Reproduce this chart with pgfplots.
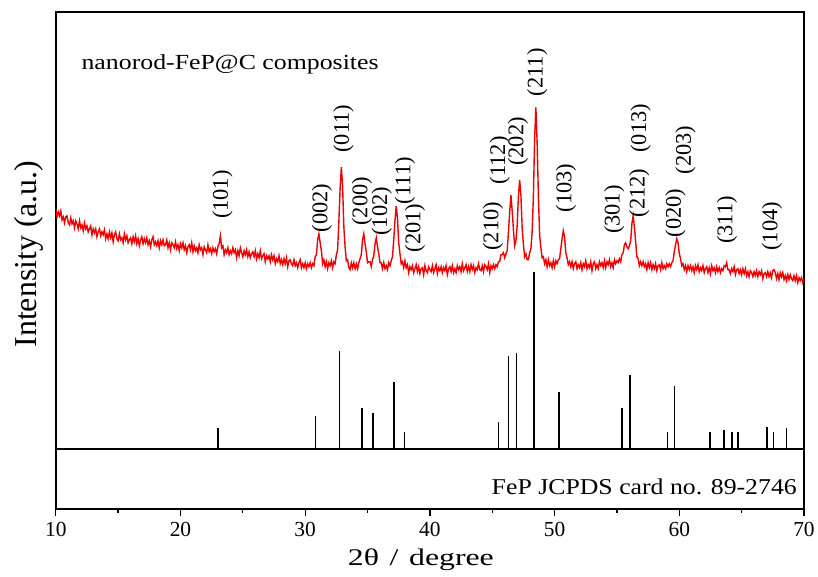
\documentclass[border=0pt]{standalone}
\usepackage{pgfplots}
\pgfplotsset{compat=1.18}
\usepackage{graphicx}
\usepackage{fontspec}
\setmainfont{Liberation Serif}

\definecolor{xrdred}{RGB}{238,0,0}

\begin{document}
\begin{tikzpicture}[
  hkl/.style={rotate=90, anchor=west, inner sep=0pt, font=\fontsize{22.5}{24}\selectfont},
]
% JCPDS reference lines (baseline sits on the separating line)
\begin{axis}[
  at={(0pt,60pt)}, anchor=south west,
  scale only axis, width=751pt, height=438.7pt,
  xmin=10, xmax=70, ymin=0, ymax=438.7,
  hide axis,
]
\addplot[ycomb, black, line width=1.6pt, mark=none] table {
23.00  20.7
30.82  33.4
32.76  98.0
34.55  41.4
35.45  36.4
37.13  67.4
37.96  17.0
45.49  27.4
46.32  93.4
46.96  96.4
48.34 177.4
50.36  57.4
55.39  41.4
56.06  74.0
59.04  17.0
59.60  63.7
62.45  17.0
63.57  19.0
64.21  17.4
64.71  17.4
67.05  22.0
67.56  17.0
68.60  21.0
};
\end{axis}

% measured pattern, frame and annotations
\begin{axis}[
  at={(0pt,0pt)}, anchor=south west,
  scale only axis, width=751pt, height=498.7pt,
  xmin=10, xmax=70, ymin=0, ymax=498.7,
  clip mode=individual,
  axis line style={line width=1.6pt},
  xtick={10,20,...,70},
  minor xtick={15,25,...,65},
  ytick=\empty,
  xtick pos=left,
  tick align=outside,
  major tick length=7.5pt, minor tick length=4pt,
  major tick style={black, line width=1.3pt},
  minor tick style={black, line width=1.3pt},
  xticklabel style={font=\fontsize{21.5}{24}\selectfont, yshift=-2pt},
  /pgf/number format/assume math mode=true,
]
\draw[line width=1.6pt] (axis cs:10,60) -- (axis cs:70,60);

\addplot[xrdred, line width=1.4pt, mark=none] table {
10.0 301
10.1 293
10.2 298
10.3 294
10.4 299
10.5 290
10.6 293
10.7 287
10.8 293
10.9 294
11.0 287
11.1 285
11.2 292
11.3 286
11.4 289
11.5 282
11.6 289
11.7 286
11.8 281
11.9 289
12.0 282
12.1 285
12.2 279
12.3 287
12.4 281
12.5 284
12.6 278
12.7 281
12.8 284
12.9 275
13.0 281
13.1 277
13.2 281
13.3 273
13.4 278
13.5 281
13.6 274
13.7 278
13.8 275
13.9 280
14.0 271
14.1 276
14.2 271
14.3 278
14.4 272
14.5 277
14.6 268
14.7 275
14.8 278
14.9 271
15.0 269
15.1 276
15.2 270
15.3 272
15.4 267
15.5 276
15.6 270
15.7 274
15.8 267
15.9 270
16.0 272
16.1 266
16.2 273
16.3 268
16.4 274
16.5 266
16.6 271
16.7 264
16.8 270
16.9 273
17.0 266
17.1 271
17.2 267
17.3 272
17.4 265
17.5 269
17.6 263
17.7 270
17.8 273
17.9 265
18.0 268
18.1 264
18.2 269
18.3 262
18.4 269
18.5 265
18.6 270
18.7 264
18.8 265
18.9 270
19.0 262
19.1 267
19.2 260
19.3 267
19.4 265
19.5 262
19.6 268
19.7 261
19.8 265
19.9 259
20.0 266
20.1 262
20.2 267
20.3 260
20.4 264
20.5 257
20.6 263
20.7 265
20.8 260
20.9 267
21.0 258
21.1 264
21.2 259
21.3 262
21.4 257
21.5 265
21.6 260
21.7 262
21.8 255
21.9 263
22.0 260
22.1 257
22.2 265
22.3 258
22.4 261
22.5 256
22.6 262
22.7 258
22.8 261
22.9 256
23.0 263
23.1 266
23.2 274
23.3 262
23.4 264
23.5 255
23.6 260
23.7 257
23.8 262
23.9 255
24.0 259
24.1 256
24.2 262
24.3 257
24.4 260
24.5 252
24.6 259
24.7 254
24.8 262
24.9 257
25.0 253
25.1 259
25.2 255
25.3 260
25.4 253
25.5 258
25.6 252
25.7 256
25.8 258
25.9 253
26.0 259
26.1 251
26.2 256
26.3 252
26.4 259
26.5 251
26.6 254
26.7 256
26.8 248
26.9 254
27.0 251
27.1 254
27.2 248
27.3 255
27.4 250
27.5 254
27.6 246
27.7 251
27.8 248
27.9 254
28.0 246
28.1 250
28.2 245
28.3 251
28.4 246
28.5 252
28.6 243
28.7 249
28.8 250
28.9 246
29.0 244
29.1 250
29.2 244
29.3 247
29.4 242
29.5 247
29.6 250
29.7 242
29.8 246
29.9 242
30.0 247
30.1 241
30.2 246
30.3 243
30.4 247
30.5 242
30.6 246
30.7 244
30.8 253
30.9 255
31.0 270
31.1 276
31.2 267
31.3 259
31.4 246
31.5 250
31.6 243
31.7 248
31.8 241
31.9 247
32.0 244
32.1 249
32.2 242
32.3 248
32.4 246
32.5 255
32.6 260
32.7 288
32.8 321
32.9 343
33.0 324
33.1 283
33.2 263
33.3 249
33.4 250
33.5 242
33.6 240
33.7 247
33.8 242
33.9 247
34.0 241
34.1 246
34.2 241
34.3 247
34.4 251
34.5 255
34.6 270
34.7 276
34.8 266
34.9 258
35.0 247
35.1 248
35.2 248
35.3 243
35.4 250
35.5 254
35.6 266
35.7 272
35.8 263
35.9 256
36.0 247
36.1 247
36.2 241
36.3 247
36.4 241
36.5 244
36.6 240
36.7 247
36.8 244
36.9 249
37.0 253
37.1 270
37.2 289
37.3 304
37.4 292
37.5 267
37.6 256
37.7 246
37.8 248
37.9 242
38.0 249
38.1 242
38.2 245
38.3 237
38.4 243
38.5 240
38.6 244
38.7 237
38.8 241
38.9 245
39.0 238
39.1 243
39.2 236
39.3 241
39.4 242
39.5 235
39.6 244
39.7 239
39.8 237
39.9 243
40.0 240
40.1 238
40.2 244
40.3 237
40.4 241
40.5 245
40.6 236
40.7 242
40.8 239
40.9 243
41.0 237
41.1 242
41.2 239
41.3 244
41.4 235
41.5 241
41.6 243
41.7 238
41.8 244
41.9 237
42.0 241
42.1 237
42.2 244
42.3 240
42.4 243
42.5 238
42.6 246
42.7 239
42.8 242
42.9 245
43.0 238
43.1 243
43.2 238
43.3 245
43.4 240
43.5 244
43.6 237
43.7 242
43.8 240
43.9 246
44.0 240
44.1 239
44.2 244
44.3 238
44.4 245
44.5 243
44.6 240
44.7 246
44.8 237
44.9 244
45.0 241
45.1 245
45.2 241
45.3 245
45.4 243
45.5 248
45.6 248
45.7 255
45.8 255
45.9 257
46.0 252
46.1 256
46.2 259
46.3 278
46.4 298
46.5 315
46.6 299
46.7 280
46.8 264
46.9 269
47.0 284
47.1 314
47.2 330
47.3 315
47.4 282
47.5 265
47.6 253
47.7 256
47.8 250
47.9 250
48.0 257
48.1 261
48.2 278
48.3 313
48.4 372
48.5 403
48.6 368
48.7 315
48.8 275
48.9 262
49.0 252
49.1 253
49.2 246
49.3 250
49.4 243
49.5 250
49.6 244
49.7 247
49.8 242
49.9 249
50.0 243
50.1 249
50.2 246
50.3 250
50.4 251
50.5 261
50.6 271
50.7 279
50.8 273
50.9 257
51.0 252
51.1 245
51.2 248
51.3 243
51.4 248
51.5 241
51.6 246
51.7 248
51.8 241
51.9 245
52.0 242
52.1 247
52.2 240
52.3 246
52.4 243
52.5 249
52.6 241
52.7 245
52.8 242
52.9 248
53.0 239
53.1 246
53.2 248
53.3 241
53.4 245
53.5 241
53.6 248
53.7 244
53.8 247
53.9 242
54.0 249
54.1 242
54.2 248
54.3 245
54.4 250
54.5 243
54.6 247
54.7 242
54.8 250
54.9 246
55.0 249
55.1 247
55.2 251
55.3 248
55.4 255
55.5 257
55.6 265
55.7 267
55.8 263
55.9 261
56.0 264
56.1 269
56.2 286
56.3 294
56.4 283
56.5 268
56.6 253
56.7 251
56.8 244
56.9 248
57.0 244
57.1 248
57.2 243
57.3 246
57.4 240
57.5 247
57.6 242
57.7 247
57.8 240
57.9 245
58.0 241
58.1 246
58.2 239
58.3 244
58.4 245
58.5 240
58.6 247
58.7 241
58.8 244
58.9 241
59.0 246
59.1 243
59.2 246
59.3 243
59.4 247
59.5 249
59.6 258
59.7 265
59.8 271
59.9 267
60.0 256
60.1 251
60.2 244
60.3 246
60.4 240
60.5 244
60.6 238
60.7 244
60.8 240
60.9 244
61.0 239
61.1 243
61.2 237
61.3 244
61.4 240
61.5 245
61.6 238
61.7 242
61.8 239
61.9 244
62.0 237
62.1 241
62.2 243
62.3 237
62.4 242
62.5 236
62.6 244
62.7 239
62.8 242
62.9 237
63.0 243
63.1 238
63.2 242
63.3 237
63.4 241
63.5 239
63.6 244
63.7 243
63.8 247
63.9 240
64.0 240
64.1 236
64.2 241
64.3 238
64.4 243
64.5 235
64.6 240
64.7 241
64.8 236
64.9 240
65.0 235
65.1 241
65.2 236
65.3 241
65.4 234
65.5 238
65.6 233
65.7 239
65.8 237
65.9 233
66.0 238
66.1 234
66.2 239
66.3 233
66.4 238
66.5 235
66.6 239
66.7 231
66.8 236
66.9 237
67.0 233
67.1 238
67.2 233
67.3 237
67.4 232
67.5 239
67.6 240
67.7 237
67.8 231
67.9 236
68.0 230
68.1 237
68.2 233
68.3 237
68.4 230
68.5 234
68.6 229
68.7 235
68.8 230
68.9 235
69.0 231
69.1 229
69.2 234
69.3 229
69.4 234
69.5 227
69.6 232
69.7 229
69.8 232
69.9 227
70.0 231
};

% Miller indices of the reflections
\node[hkl] at (axis cs:23.36,290.7) {(101)};
\node[hkl] at (axis cs:31.35,277.4) {(002)};
\node[hkl] at (axis cs:33.08,357.4) {(011)};
\node[hkl] at (axis cs:34.55,284.0) {(200)};
\node[hkl] at (axis cs:36.14,274.0) {(102)};
\node[hkl] at (axis cs:38.00,305.7) {(111)};
\node[hkl] at (axis cs:38.80,257.4) {(201)};
\node[hkl] at (axis cs:45.07,259.0) {(210)};
\node[hkl] at (axis cs:45.60,325.7) {(112)};
\node[hkl] at (axis cs:47.06,344.0) {(202)};
\node[hkl] at (axis cs:48.60,414.0) {(211)};
\node[hkl] at (axis cs:50.92,297.4) {(103)};
\node[hkl] at (axis cs:54.78,275.7) {(301)};
\node[hkl] at (axis cs:56.78,292.4) {(212)};
\node[hkl] at (axis cs:56.91,357.4) {(013)};
\node[hkl] at (axis cs:59.70,272.4) {(020)};
\node[hkl] at (axis cs:60.50,335.7) {(203)};
\node[hkl] at (axis cs:63.83,265.7) {(311)};
\node[hkl] at (axis cs:67.43,259.0) {(104)};

% panel captions and axis titles
\node[anchor=base west, inner sep=0pt, font=\fontsize{21.6}{24}\selectfont]
  at (axis description cs:0.0342,0.8837) {\scalebox{1.2}[1]{nanorod-FeP@C composites}};
\node[anchor=base east, inner sep=0pt, font=\fontsize{22.7}{25}\selectfont]
  at (axis description cs:0.9907,0.0281) {\scalebox{1.14}[1]{FeP JCPDS card no. 89-2746}};
\node[anchor=base, inner sep=0pt, font=\fontsize{24}{28}\selectfont]
  at (axis description cs:0.488,-0.1135) {\scalebox{1.33}[1]{2θ\hspace{8pt}/\hspace{8pt}degree}};
\node[anchor=base, rotate=90, inner sep=0pt, font=\fontsize{32}{36}\selectfont]
  at (axis description cs:-0.0257,0.5127) {Intensity (a.u.)};
\end{axis}

\path (-56pt,-68.3pt) rectangle (762pt,510.7pt);
\end{tikzpicture}
\end{document}
